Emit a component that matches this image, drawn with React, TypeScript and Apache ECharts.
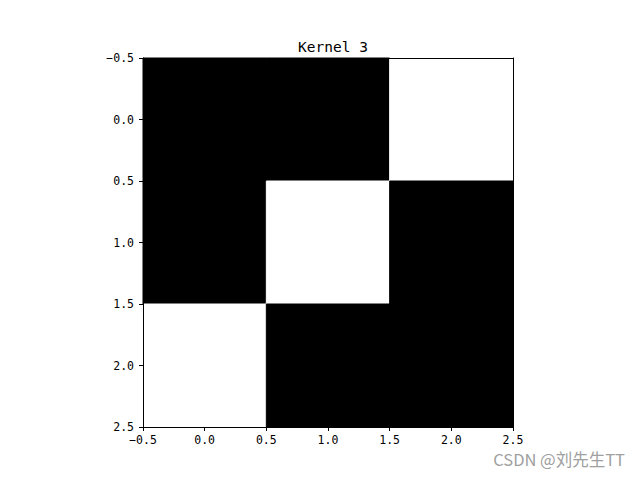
import React, { useEffect, useRef } from "react";
import * as echarts from "echarts";

const title = "Kernel 3";
const rowIndex = [0, 1, 2];
const colIndex = [0, 1, 2];
const kernel = [
  [0, 0, 1],
  [0, 1, 0],
  [1, 0, 0],
];
const tickMin = -0.5;
const tickMax = 2.5;
const tickStep = 0.5;
const watermark = "CSDN @刘先生TT";

const fmt = (v: number) => (v < 0 ? "\u2212" + Math.abs(v).toFixed(1) : v.toFixed(1));

export default function App() {
  const ref = useRef<HTMLDivElement>(null);
  useEffect(() => {
    if (!ref.current) return;
    const chart = echarts.init(ref.current, null, { renderer: "svg" });
    const data: number[][] = [];
    rowIndex.forEach((r) => colIndex.forEach((c) => data.push([c, r, kernel[r][c]])));
    const mono = "'DejaVu Sans Mono', monospace";
    const cjk = "'Noto Sans CJK SC', sans-serif";
    const baseAxis = {
      type: "value" as const,
      min: tickMin,
      max: tickMax,
      interval: tickStep,
      splitLine: { show: false },
      z: 10,
    };
    chart.setOption({
      animation: false,
      backgroundColor: "#ffffff",
      title: {
        text: title,
        left: 328,
        textAlign: "center",
        top: 34,
        textStyle: { fontFamily: mono, fontSize: 14.5, fontWeight: "normal", color: "#000" },
      },
      graphic: [
        {
          type: "text",
          right: 15,
          top: 451,
          style: { text: watermark, fontFamily: cjk, fontSize: 16.5, fill: "#a0a0a0" },
        },
      ],
      grid: { left: 143, right: 127, top: 58, bottom: 53 },
      xAxis: [
        {
          ...baseAxis,
          position: "bottom",
          axisLine: { show: true, onZero: false, lineStyle: { color: "#000", width: 1 } },
          axisTick: { show: true, length: 4, lineStyle: { color: "#000" } },
          axisLabel: {
            show: true,
            margin: 7,
            color: "#000",
            fontFamily: mono,
            fontSize: 11.5,
            formatter: fmt,
          },
        },
        {
          ...baseAxis,
          position: "top",
          axisLine: { show: true, onZero: false, lineStyle: { color: "#000", width: 1 } },
          axisTick: { show: false },
          axisLabel: { show: false },
        },
      ],
      yAxis: [
        {
          ...baseAxis,
          inverse: true,
          position: "left",
          axisLine: { show: true, onZero: false, lineStyle: { color: "#000", width: 1 } },
          axisTick: { show: true, length: 4, lineStyle: { color: "#000" } },
          axisLabel: {
            show: true,
            margin: 9,
            color: "#000",
            fontFamily: mono,
            fontSize: 11.5,
            formatter: fmt,
          },
        },
        {
          ...baseAxis,
          inverse: true,
          position: "right",
          axisLine: { show: true, onZero: false, lineStyle: { color: "#000", width: 1 } },
          axisTick: { show: false },
          axisLabel: { show: false },
        },
      ],
      series: [
        {
          type: "custom",
          xAxisIndex: 0,
          yAxisIndex: 0,
          data,
          renderItem: (params: any, api: any) => {
            const x = api.value(0);
            const y = api.value(1);
            const v = api.value(2);
            const p0 = api.coord([x - 0.5, y - 0.5]);
            const p1 = api.coord([x + 0.5, y + 0.5]);
            const color = v > 0.5 ? "#ffffff" : "#000000";
            return {
              type: "rect",
              shape: {
                x: Math.min(p0[0], p1[0]),
                y: Math.min(p0[1], p1[1]),
                width: Math.abs(p1[0] - p0[0]),
                height: Math.abs(p1[1] - p0[1]),
              },
              style: { fill: color, stroke: color, lineWidth: 1 },
            };
          },
        },
      ],
    });
    return () => chart.dispose();
  }, []);
  return (
    <div
      ref={ref}
      style={{ position: "fixed", left: 0, top: 0, width: 640, height: 480 }}
    />
  );
}
